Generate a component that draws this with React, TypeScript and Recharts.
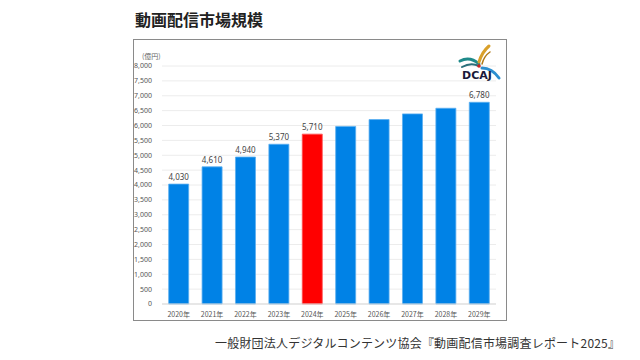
import React from "react";
import { BarChart, Bar, XAxis, YAxis, CartesianGrid, LabelList, Cell } from "recharts";

const years = ["2020年", "2021年", "2022年", "2023年", "2024年", "2025年", "2026年", "2027年", "2028年", "2029年"];
const marketSize = [4030, 4610, 4940, 5370, 5710, 5970, 6200, 6390, 6580, 6780];
const shownLabels = [true, true, true, true, true, false, false, false, false, true];
const yTicks = [0, 500, 1000, 1500, 2000, 2500, 3000, 3500, 4000, 4500, 5000, 5500, 6000, 6500, 7000, 7500, 8000];
const highlightYear = "2024年";

const data = years.map((year, i) => ({
  year,
  value: marketSize[i],
  label: shownLabels[i] ? marketSize[i].toLocaleString("en-US") : "",
}));

const numFont = "'Noto Sans', 'Noto Sans CJK JP', sans-serif";

const Logo: React.FC = () => (
  <svg width={50} height={42} style={{ position: "absolute", left: 452, top: 42 }}>
    <path d="M8 19 Q18 14 27 22" stroke="#1f8a8a" strokeWidth={3} fill="none" strokeLinecap="round" />
    <path d="M10 25 Q19 20 27 24" stroke="#2a6f7a" strokeWidth={2} fill="none" strokeLinecap="round" />
    <path d="M27 20 Q30 10 37 4" stroke="#d9a02a" strokeWidth={3} fill="none" strokeLinecap="round" />
    <path d="M30 22 Q32 14 38 10" stroke="#b07a18" strokeWidth={1.5} fill="none" strokeLinecap="round" />
    <path d="M30 26 Q40 26 47 36" stroke="#2b8fd0" strokeWidth={3} fill="none" strokeLinecap="round" />
    <circle cx={27} cy={24} r={1.8} fill="#d02020" />
    <text x={10} y={37} fontSize={11} fontWeight={700} fill="#1a1a3a" fontFamily="'DejaVu Sans', sans-serif">
      DCAJ
    </text>
  </svg>
);

const App: React.FC = () => {
  return (
    <div style={{ position: "absolute", left: 0, top: 0, width: 640, height: 360, background: "#fff" }}>
      <div
        style={{
          position: "absolute",
          left: 135,
          top: 9,
          fontSize: 16,
          fontWeight: 700,
          color: "#222",
          fontFamily: "'Noto Sans CJK JP', sans-serif",
          lineHeight: "20px",
        }}
      >
        動画配信市場規模
      </div>
      <div
        style={{
          position: "absolute",
          left: 133,
          top: 39,
          width: 372,
          height: 280,
          border: "1px solid #8a8a8a",
          background: "#fff",
        }}
      >
        <div
          style={{
            position: "absolute",
            left: 8,
            top: 11,
            fontSize: 7,
            color: "#666",
            fontFamily: "'Noto Sans CJK JP', sans-serif",
          }}
        >
          (億円)
        </div>
        <BarChart
          width={372}
          height={280}
          data={data}
          margin={{ top: 26, right: 10, bottom: 0, left: 0 }}
          barCategoryGap="20%"
        >
          <CartesianGrid vertical={false} stroke="#ececec" />
          <XAxis
            dataKey="year"
            axisLine={{ stroke: "#d9d9d9" }}
            tickLine={false}
            tick={{ fontSize: 7, fill: "#555", fontFamily: "'Noto Sans CJK JP', sans-serif" }}
            tickMargin={2}
            height={16}
          />
          <YAxis
            domain={[0, 8000]}
            ticks={yTicks}
            interval={0}
            axisLine={false}
            tickLine={false}
            width={28}
            tickMargin={4}
            tick={{ fontSize: 7, fill: "#555", fontFamily: numFont }}
            tickFormatter={(v: number) => v.toLocaleString("en-US")}
          />
          <Bar dataKey="value" isAnimationActive={false} stroke="#5aaef0" strokeWidth={0.8}>
            {data.map((d) => (
              <Cell
                key={d.year}
                fill={d.year === highlightYear ? "#FF0000" : "#0082E6"}
                stroke={d.year === highlightYear ? "#ff5050" : "#5aaef0"}
              />
            ))}
            <LabelList
              dataKey="label"
              position="top"
              offset={4}
              style={{ fontSize: 8, fill: "#444", fontFamily: numFont }}
            />
          </Bar>
        </BarChart>
      </div>
      <Logo />
      <div
        style={{
          position: "absolute",
          left: 215,
          top: 335,
          fontSize: 12,
          letterSpacing: 0.2,
          color: "#333",
          fontFamily: "'Noto Sans CJK JP', sans-serif",
          lineHeight: "16px",
          whiteSpace: "nowrap",
        }}
      >
        一般財団法人デジタルコンテンツ協会『動画配信市場調査レポート2025』
      </div>
    </div>
  );
};

export default App;
